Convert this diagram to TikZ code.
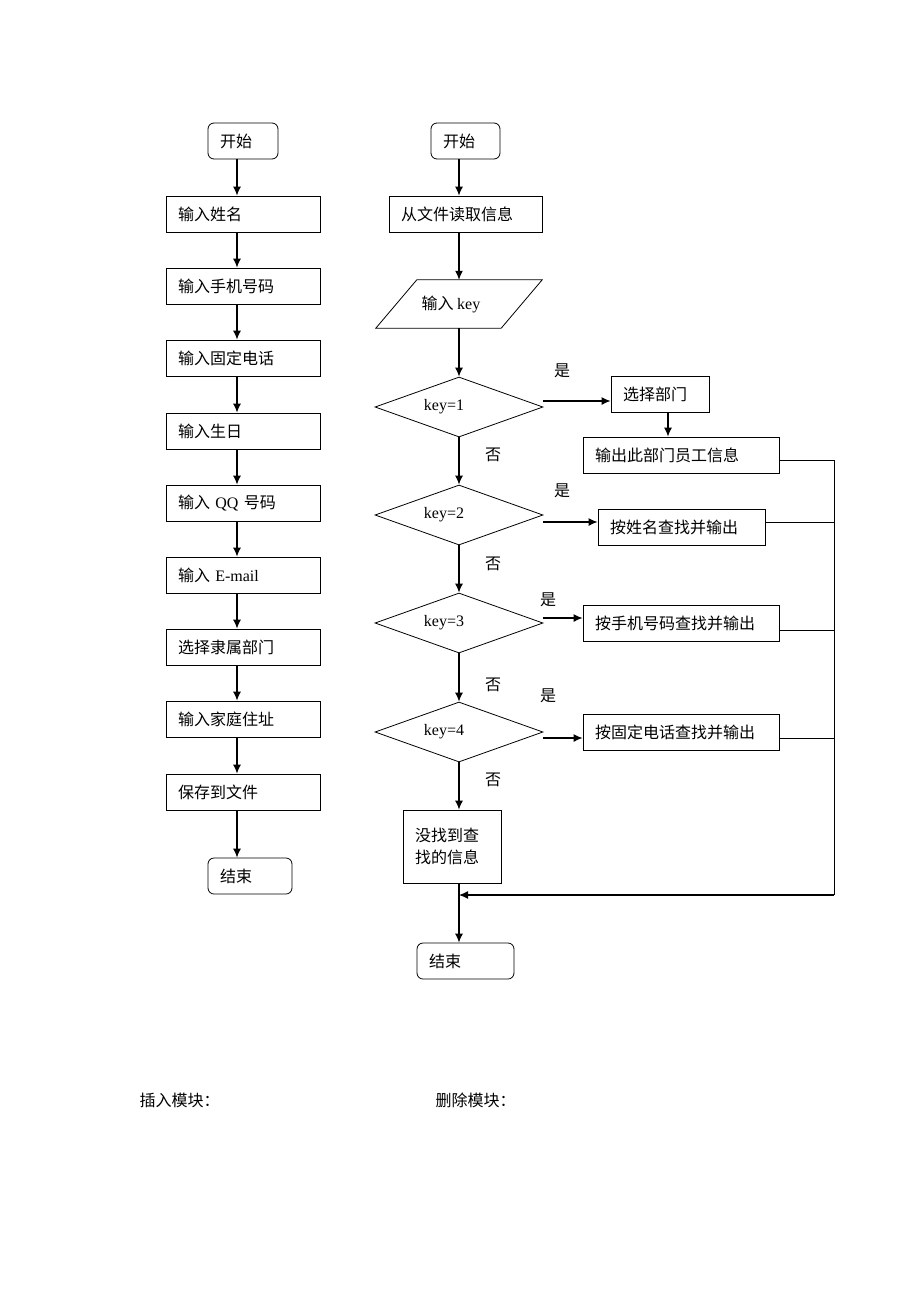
\documentclass[tikz,border=0pt]{standalone}
\usepackage{fontspec}
\setmainfont{Liberation Serif}
\newfontfamily\cjk{Noto Sans CJK SC}
\usetikzlibrary{shapes.geometric,arrows.meta}

\tikzset{
  proc/.style={draw, line width=.8pt, minimum height=36pt, inner xsep=12pt, inner ysep=0pt, text width=#1, align=left},
  term/.style={proc=#1, rounded corners=6pt},
  dec/.style={draw, diamond, aspect=2.8, line width=.8pt, minimum width=168pt, minimum height=60pt, inner sep=0pt},
  arr/.style={-{Latex[length=9pt,width=8pt]}, line width=1.2pt},
  lnk/.style={line width=.8pt},
  lbl/.style={inner sep=0pt}
}

\begin{document}
\begin{tikzpicture}[x=1pt, y=-1pt, font=\cjk\fontsize{16}{22}\selectfont]
\useasboundingbox (0,0) rectangle (920,1302);

% input module
\node[term=46pt]  (s1) at (243,141) {开始};
\node[proc=130pt] (a1) at (243,214) {输入姓名};
\node[proc=130pt] (a2) at (243,286) {输入手机号码};
\node[proc=130pt] (a3) at (243,358) {输入固定电话};
\node[proc=130pt] (a4) at (243,431) {输入生日};
\node[proc=130pt] (a5) at (243,503) {输入 {\rmfamily QQ} 号码};
\node[proc=130pt] (a6) at (243,575) {输入 {\rmfamily E-mail}};
\node[proc=130pt] (a7) at (243,647) {选择隶属部门};
\node[proc=130pt] (a8) at (243,719) {输入家庭住址};
\node[proc=130pt] (a9) at (243,792) {保存到文件};
\node[term=60pt]  (e1) at (250,876) {结束};
\coordinate (lx) at (237,0);
\foreach \u/\v in {s1/a1,a1/a2,a2/a3,a3/a4,a4/a5,a5/a6,a6/a7,a7/a8,a8/a9,a9/e1}
  \draw[arr] (\u.south -| lx) -- (\v.north -| lx);

% search module
\node[term=45pt]  (s2) at (465.5,141) {开始};
\node[proc=129pt] (rd) at (465.5,214) {从文件读取信息};
\node[minimum width=166pt, minimum height=48pt, inner sep=0pt] (ink) at (459,304) {输入 {\rmfamily key}\hspace*{16pt}};
\draw[lnk] ([xshift=41pt]ink.north west) -- (ink.north east) -- ([xshift=-41pt]ink.south east) -- (ink.south west) -- cycle;
\node[dec] (k1) at (459,407) {{\rmfamily key=1}\hspace*{30pt}};
\node[dec] (k2) at (459,515) {{\rmfamily key=2}\hspace*{30pt}};
\node[dec] (k3) at (459,623) {{\rmfamily key=3}\hspace*{30pt}};
\node[dec] (k4) at (459,732) {{\rmfamily key=4}\hspace*{30pt}};
\node[proc=74pt, minimum height=73pt] (nf) at (452,846.5) {没找到查\\找的信息\\[6pt]};
\node[term=73pt]  (e2) at (465.5,961) {结束};

\node[proc=74pt]  (b0) at (660,394) {选择部门};
\node[proc=172pt] (b1) at (681,455) {输出此部门员工信息};
\node[proc=143pt] (b2) at (681.5,527) {按姓名查找并输出};
\node[proc=172pt] (b3) at (681,623) {按手机号码查找并输出};
\node[proc=172pt] (b4) at (681,732) {按固定电话查找并输出};

\foreach \u/\v in {s2/rd,rd/ink,ink/k1,k1/k2,k2/k3,k3/k4,k4/nf}
  \draw[arr] (\u.south -| k1) -- (\v.north -| k1);

\draw[arr] ([yshift=6pt]k1.east) -- ([yshift=6pt]k1.east -| b0.west);
\draw[arr] ([yshift=-7pt]k2.east) -- ([yshift=-7pt]k2.east -| b2.west);
\draw[arr] ([yshift=5pt]k3.east) -- ([yshift=5pt]k3.east -| b3.west);
\draw[arr] ([yshift=-6pt]k4.east) -- ([yshift=-6pt]k4.east -| b4.west);
\draw[arr] ([xshift=8pt]b0.south) -- ([xshift=8pt]b0.south |- b1.north);

\coordinate (cnr) at (834,895);
\draw[lnk] ([yshift=-5pt]b1.east) -| (cnr);
\draw[lnk] ([yshift=5pt]b2.east) -- ([yshift=5pt]b2.east -| cnr);
\draw[lnk] ([yshift=-7pt]b3.east) -- ([yshift=-7pt]b3.east -| cnr);
\draw[lnk] ([yshift=-6pt]b4.east) -- ([yshift=-6pt]b4.east -| cnr);
\draw[arr] (cnr) -- (cnr -| k1);
\draw[arr] (nf.south -| k1) -- (e2.north -| k1);

\node[lbl] (y1) at (562,371) {是};
\node[lbl] (n1) at (493,455) {否};
\node[lbl] (y2) at (562,491) {是};
\node[lbl] (n2) at (493,564) {否};
\node[lbl] (y3) at (548,600) {是};
\node[lbl] (n3) at (493,685) {否};
\node[lbl] (y4) at (548,696) {是};
\node[lbl] (n4) at (493,780) {否};

\node[anchor=west] (ins) at (136,1100) {插入模块：};
\node[anchor=west] (del) at (432,1100) {删除模块：};
\end{tikzpicture}
\end{document}
